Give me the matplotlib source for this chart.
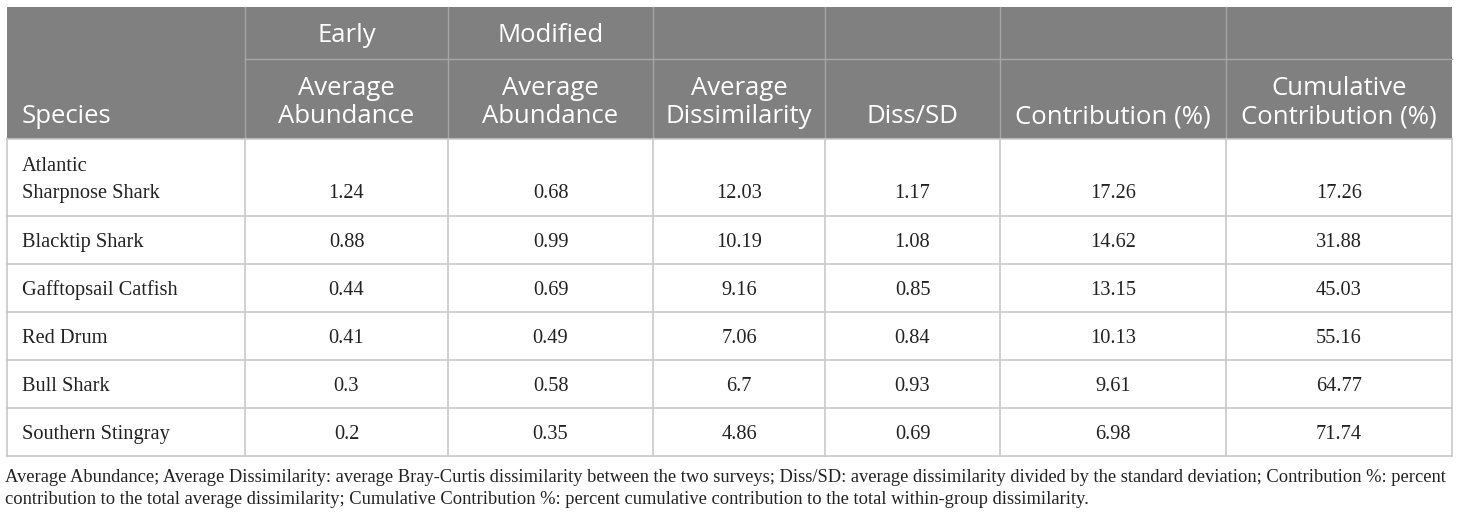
import matplotlib
matplotlib.use("Agg")
import matplotlib.pyplot as plt
from matplotlib.patches import Rectangle

# ---- data ----
species = ["Atlantic\nSharpnose Shark", "Blacktip Shark", "Gafftopsail Catfish",
           "Red Drum", "Bull Shark", "Southern Stingray"]
early_abund = ["1.24", "0.88", "0.44", "0.41", "0.3", "0.2"]
modified_abund = ["0.68", "0.99", "0.69", "0.49", "0.58", "0.35"]
avg_dissim = ["12.03", "10.19", "9.16", "7.06", "6.7", "4.86"]
diss_sd = ["1.17", "1.08", "0.85", "0.84", "0.93", "0.69"]
contribution = ["17.26", "14.62", "13.15", "10.13", "9.61", "6.98"]
cumulative = ["17.26", "31.88", "45.03", "55.16", "64.77", "71.74"]

group_labels = ["", "Early", "Modified", "", "", "", ""]
column_labels = ["Species", "Average\nAbundance", "Average\nAbundance", "Average\nDissimilarity",
                 "Diss/SD", "Contribution (%)", "Cumulative\nContribution (%)"]
footnote = ["Average Abundance; Average Dissimilarity: average Bray-Curtis dissimilarity between the two surveys; "
            "Diss/SD: average dissimilarity divided by the standard deviation; Contribution %: percent",
            "contribution to the total average dissimilarity; Cumulative Contribution %: percent cumulative "
            "contribution to the total within-group dissimilarity."]

# ---- layout (pixels) ----
W, H = 1460, 519
col_edges = [7, 245, 448, 653, 825, 1000, 1226, 1452]
y_top, y_split, y_head = 7, 59, 139
row_edges = [139, 216, 264, 312, 360, 408, 456]
HEAD_BG = "#808080"
HEAD_LINE = "#a6a6a6"
BODY_LINE = "#c8c8c8"
sans = ["Open Sans", "DejaVu Sans"]
serif = ["Liberation Serif", "DejaVu Serif"]
head_fs = 18.5
body_fs = 14.7
foot_fs = 13.3

fig = plt.figure(figsize=(W / 100, H / 100), dpi=100)
ax = fig.add_axes([0, 0, 1, 1])
ax.set_xlim(0, W)
ax.set_ylim(H, 0)
ax.axis("off")

# header background
ax.add_patch(Rectangle((col_edges[0], y_top), col_edges[-1] - col_edges[0], y_head - y_top,
                       facecolor=HEAD_BG, edgecolor="none"))
# header lines
ax.plot([col_edges[1], col_edges[-1]], [y_split, y_split], color=HEAD_LINE, lw=1)
for x in col_edges[1:-1]:
    ax.plot([x, x], [y_top, y_head], color=HEAD_LINE, lw=1)

# body lines
for y in row_edges:
    ax.plot([col_edges[0], col_edges[-1]], [y, y], color=BODY_LINE, lw=1.2)
for x in col_edges:
    ax.plot([x, x], [row_edges[0], row_edges[-1]], color=BODY_LINE, lw=1.2)

centers = [(col_edges[i] + col_edges[i + 1]) / 2 for i in range(len(col_edges) - 1)]

# header text
for i, g in enumerate(group_labels):
    if g:
        ax.text(centers[i], 42, g, ha="center", va="baseline", color="white",
                fontsize=head_fs, family=sans)
for i, lab in enumerate(column_labels):
    lines = lab.split("\n")
    n = len(lines)
    for k, line in enumerate(lines):
        yb = 123 - (n - 1 - k) * 28
        if i == 0:
            ax.text(col_edges[0] + 15, yb, line, ha="left", va="baseline", color="white",
                    fontsize=head_fs, family=sans)
        else:
            ax.text(centers[i], yb, line, ha="center", va="baseline", color="white",
                    fontsize=head_fs, family=sans)

# body text
cols = [early_abund, modified_abund, avg_dissim, diss_sd, contribution, cumulative]
for r, sp in enumerate(species):
    y0, y1 = row_edges[r], row_edges[r + 1]
    yc = (y0 + y1) / 2
    lines = sp.split("\n")
    n = len(lines)
    for k, line in enumerate(lines):
        yb = yc + 7 + (k - (n - 1) / 2) * 27
        ax.text(col_edges[0] + 15, yb, line, ha="left", va="baseline", color="#222222",
                fontsize=body_fs, family=serif)
    yb_last = yc + 7 + ((n - 1) / 2) * 27
    for c, vals in enumerate(cols):
        ax.text(centers[c + 1], yb_last, vals[r], ha="center", va="baseline", color="#222222",
                fontsize=body_fs, family=serif)

# footnote
for k, line in enumerate(footnote):
    ax.text(5, 482 + k * 22.5, line, ha="left", va="baseline", color="#222222",
            fontsize=foot_fs, family=serif)

fig.savefig("out.png", dpi=100, facecolor="white")
